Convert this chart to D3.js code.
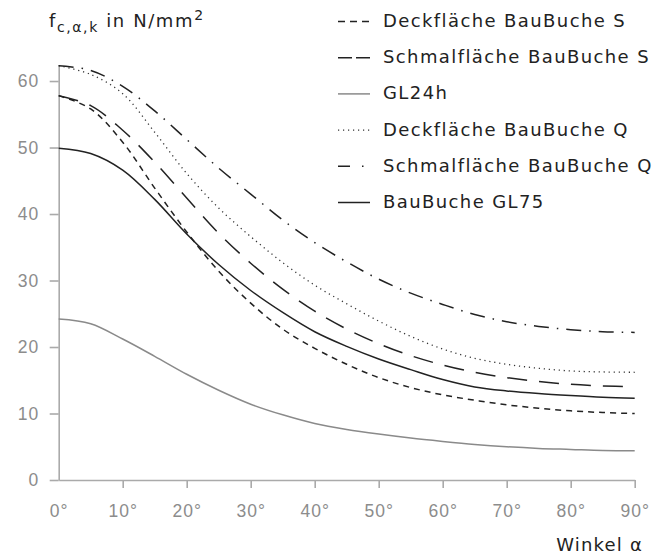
<!DOCTYPE html>
<html>
<head>
<meta charset="utf-8">
<script src="https://cdn.jsdelivr.net/npm/d3@7"></script>
<style>
    body { margin: 0; background: #fff; }
    svg { font-family: "DejaVu Sans", "Noto Sans", sans-serif; }
    .tick text { fill: #8c8c8c; font-size: 17.5px; letter-spacing: 1px; }
    .axis path, .axis line { stroke: #aaa; stroke-width: 1.6; }
</style>
</head>
<body>
<script>
// Winkel in Grad
const angles = [0, 5, 10, 15, 20, 25, 30, 35, 40, 45, 50, 55, 60, 65, 70, 75, 80, 85, 90];

// f_c,a,k in N/mm2
const deckS   = [57.8, 55.8, 50.8, 43.9, 37.3, 31.4, 26.6, 22.7, 19.8, 17.4, 15.4, 13.9, 12.8, 12.0, 11.3, 10.8, 10.4, 10.15, 10.0];
const schmalS = [57.8, 56.3, 52.6, 47.8, 42.4, 37.1, 32.6, 28.7, 25.4, 22.7, 20.5, 18.7, 17.3, 16.2, 15.4, 14.8, 14.4, 14.15, 14.0];
const gl24h   = [24.2, 23.5, 21.2, 18.6, 15.9, 13.5, 11.4, 9.8, 8.5, 7.6, 6.9, 6.3, 5.8, 5.35, 5.0, 4.75, 4.6, 4.45, 4.4];
const deckQ   = [62.3, 61.0, 58.1, 52.3, 46.1, 40.9, 36.6, 32.7, 29.3, 26.5, 23.9, 21.6, 19.7, 18.3, 17.4, 16.8, 16.4, 16.25, 16.2];
const schmalQ = [62.3, 61.6, 59.2, 55.5, 51.2, 46.9, 43.0, 39.1, 35.7, 32.8, 30.2, 28.1, 26.4, 24.9, 23.8, 23.1, 22.6, 22.3, 22.2];
const gl75    = [49.9, 49.1, 46.6, 42.2, 37.0, 32.4, 28.5, 25.2, 22.3, 20.1, 18.2, 16.6, 15.1, 14.0, 13.4, 13.0, 12.7, 12.45, 12.3];

const xTicks = [0, 10, 20, 30, 40, 50, 60, 70, 80, 90];
const yTicks = [0, 10, 20, 30, 40, 50, 60];

const seriesNames = ["Deckfläche BauBuche S", "Schmalfläche BauBuche S", "GL24h", "Deckfläche BauBuche Q", "Schmalfläche BauBuche Q", "BauBuche GL75"];
const seriesValues = [deckS, schmalS, gl24h, deckQ, schmalQ, gl75];

// Linienstile (Diagramm / Legende)
const styles = [
    { color: "#222", width: 1.5, dash: "6,5", legendDash: "7,5" },
    { color: "#222", width: 1.5, dash: "20,12", legendDash: "14,4" },
    { color: "#8a8a8a", width: 1.5, dash: null, legendDash: null },
    { color: "#333", width: 1.3, dash: "1.2,3.8", legendDash: "1.2,3.8" },
    { color: "#222", width: 1.5, dash: "15,8,1.5,8", legendDash: "12,12,1.5,20" },
    { color: "#222", width: 1.5, dash: null, legendDash: null }
];

const width = 670, height = 555;

const svg = d3.select("body").append("svg").attr("width", width).attr("height", height);

const x = d3.scaleLinear().domain([0, 90]).range([58.7, 634.7]);
const y = d3.scaleLinear().domain([0, 62.5]).range([480, 64.4]);

//Achsen
svg.append("g")
    .attr("class", "axis")
    .attr("transform", "translate(" + x(0) + ",0)")
    .call(d3.axisLeft(y).tickValues(yTicks).tickSize(9).tickSizeOuter(0).tickPadding(10.5));

const xAxis = svg.append("g")
    .attr("class", "axis")
    .attr("transform", "translate(0," + y(0) + ")")
    .call(d3.axisBottom(x).tickValues(xTicks).tickSize(8).tickSizeOuter(0).tickPadding(17)
        .tickFormat(d => d + "°"));
xAxis.selectAll(".tick").filter(d => d === 0).select("line").remove();
svg.selectAll(".tick text").attr("font-family", null);

//Kurven
const line = d3.line()
    .x((d, i) => x(angles[i]))
    .y(d => y(d))
    .curve(d3.curveCatmullRom.alpha(0.5));

seriesValues.forEach((vals, i) => {
    svg.append("path")
        .attr("d", line(vals))
        .attr("fill", "none")
        .attr("stroke", styles[i].color)
        .attr("stroke-width", styles[i].width)
        .attr("stroke-dasharray", styles[i].dash);
});

//Legende
const legend = svg.append("g").attr("transform", "translate(338,20.5)");
seriesNames.forEach((name, i) => {
    const row = legend.append("g").attr("transform", "translate(0," + (i * 36.2) + ")");
    row.append("line")
        .attr("x1", 0).attr("x2", 32).attr("y1", 1).attr("y2", 1)
        .attr("stroke", styles[i].color)
        .attr("stroke-width", styles[i].width)
        .attr("stroke-dasharray", styles[i].legendDash);
    row.append("text")
        .attr("x", 45).attr("y", 0).attr("dy", "0.36em")
        .attr("font-size", 18).attr("letter-spacing", 1.4).attr("fill", "#222")
        .text(name);
});

//Achsentitel
const yTitle = svg.append("text").attr("x", 49).attr("y", 27)
    .attr("font-size", 18).attr("letter-spacing", 1.6).attr("fill", "#222");
yTitle.append("tspan").text("f");
yTitle.append("tspan").attr("font-size", 14).attr("dy", 5).text("c,α,k");
yTitle.append("tspan").attr("dy", -5).text(" in N/mm");
yTitle.append("tspan").attr("font-size", 14).attr("dy", -7).text("2");

svg.append("text")
    .attr("x", 643).attr("y", 551)
    .attr("text-anchor", "end")
    .attr("font-size", 18).attr("letter-spacing", 1.2).attr("fill", "#222")
    .text("Winkel α");
</script>
</body>
</html>
